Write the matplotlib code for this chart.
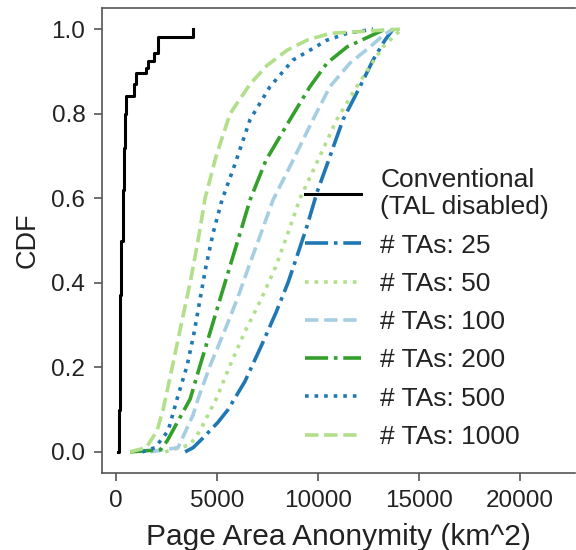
import numpy as np
import matplotlib
matplotlib.use('Agg')
import matplotlib.pyplot as plt

plt.rcParams['font.family'] = ['Liberation Sans', 'DejaVu Sans']

# conventional (TAL disabled), step CDF
conv_x = [80, 130, 170, 200, 260, 330, 390, 440, 500, 870, 1000, 1480, 1560, 1900, 2100, 3830]
conv_y = [0.0, 0.1, 0.2, 0.37, 0.5, 0.62, 0.72, 0.8, 0.842, 0.87, 0.896, 0.908, 0.925, 0.944, 0.982, 1.0]

ta25_x = [3420, 3820, 4310, 5050, 5550, 6390, 7190, 7930, 8520, 8920, 9470, 9960, 10460, 11250, 12090, 12740, 13330, 13730]
ta25_y = [0, 0.01, 0.033, 0.07, 0.1, 0.167, 0.25, 0.33, 0.4, 0.456, 0.535, 0.614, 0.68, 0.786, 0.864, 0.927, 0.974, 1.0]

ta50_x = [2430, 3670, 4160, 4560, 4960, 5650, 6390, 7190, 7930, 8520, 9120, 9910, 10940, 11930, 12420, 13230, 13930, 14170]
ta50_y = [0, 0.017, 0.05, 0.088, 0.125, 0.205, 0.285, 0.361, 0.44, 0.518, 0.6, 0.68, 0.786, 0.864, 0.9, 0.958, 0.99, 1.0]

ta100_x = [1690, 3070, 3820, 4060, 4660, 5350, 6000, 6590, 7190, 7780, 8720, 9760, 10600, 11600, 12590, 13230, 13730]
ta100_y = [0, 0.01, 0.088, 0.125, 0.204, 0.283, 0.361, 0.44, 0.518, 0.596, 0.685, 0.786, 0.864, 0.92, 0.958, 0.985, 1.0]

ta200_x = [690, 2180, 2530, 3670, 4160, 4660, 5150, 5650, 6150, 6640, 7430, 8620, 9610, 10460, 11450, 12440, 13330]
ta200_y = [0, 0.005, 0.026, 0.125, 0.204, 0.283, 0.361, 0.44, 0.518, 0.596, 0.69, 0.786, 0.864, 0.92, 0.958, 0.98, 1.0]

ta500_x = [1290, 1930, 2580, 3020, 3520, 3870, 4160, 4460, 4810, 5250, 5850, 6640, 7630, 8770, 10460, 11450, 12740]
ta500_y = [0, 0.01, 0.05, 0.125, 0.204, 0.283, 0.361, 0.44, 0.518, 0.596, 0.675, 0.786, 0.864, 0.927, 0.974, 0.99, 1.0]

ta1000_x = [690, 1490, 2030, 2330, 2780, 3220, 3670, 4060, 4410, 4960, 5650, 6640, 7480, 8470, 9470, 10600, 14070]
ta1000_y = [0, 0.01, 0.05, 0.1, 0.2, 0.3, 0.4, 0.5, 0.6, 0.7, 0.8, 0.87, 0.914, 0.95, 0.974, 0.99, 1.0]

series = [
    ('# TAs: 25', ta25_x, ta25_y, '#1f78b4', '-.'),
    ('# TAs: 50', ta50_x, ta50_y, '#b2df8a', ':'),
    ('# TAs: 100', ta100_x, ta100_y, '#a6cee3', '--'),
    ('# TAs: 200', ta200_x, ta200_y, '#33a02c', '-.'),
    ('# TAs: 500', ta500_x, ta500_y, '#1f78b4', ':'),
    ('# TAs: 1000', ta1000_x, ta1000_y, '#b2df8a', '--'),
]

fig = plt.figure(figsize=(5.76, 5.5), dpi=100)
ax = fig.add_axes([102 / 576, 1 - 473 / 550, (575 - 102) / 576, (473 - 8) / 550])

ax.plot(conv_x, conv_y, color='black', lw=2.2, drawstyle='steps-post',
        label='Conventional\n(TAL disabled)')
for name, xs, ys, col, ls in series:
    ax.plot(xs, ys, color=col, ls=ls, lw=2.6, label=name)

ax.set_xlim(-700, 22750)
ax.set_ylim(-0.05, 1.05)
ax.set_xticks([0, 5000, 10000, 15000, 20000])
ax.set_yticks([0.0, 0.2, 0.4, 0.6, 0.8, 1.0])
ax.set_xlabel('Page Area Anonymity (km^2)', fontsize=21.5, labelpad=8, color='#222222')
ax.set_ylabel('CDF', fontsize=19.5, labelpad=8, color='#222222')
ax.tick_params(labelsize=17.5, length=6, width=1.2, color='#555555',
               labelcolor='#222222', pad=6)
ax.spines['right'].set_visible(False)
for s in ['left', 'bottom', 'top']:
    ax.spines[s].set_color('#555555')
    ax.spines[s].set_linewidth(1.2)

leg = ax.legend(loc='lower left', bbox_to_anchor=(292 / 576, 1 - 462 / 550),
                bbox_transform=fig.transFigure, frameon=False, fontsize=19,
                handlelength=2.1, handletextpad=0.75, labelspacing=0.54, borderpad=0)
for t in leg.get_texts():
    t.set_color('#222222')

fig.savefig('out.png', dpi=100)
